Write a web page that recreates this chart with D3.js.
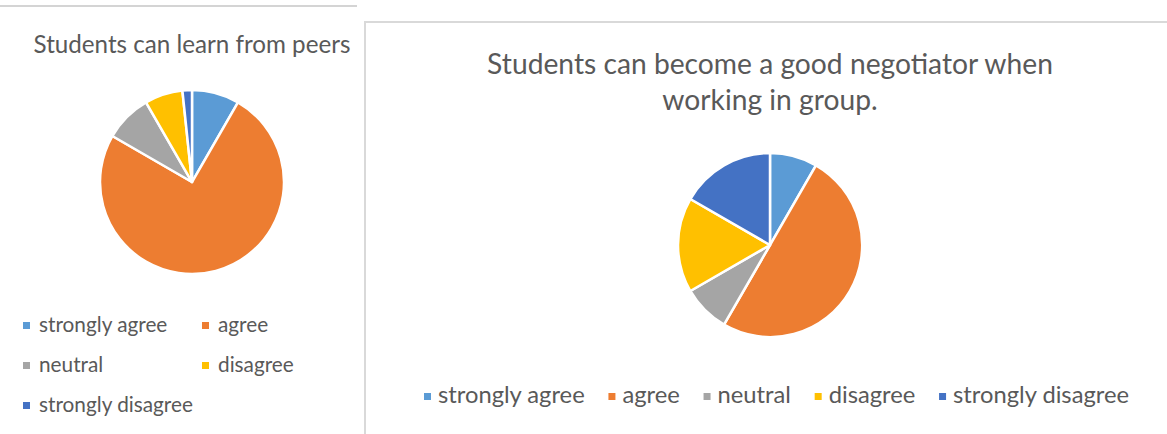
<!DOCTYPE html>
<html>
<head>
<meta charset="utf-8">
<script src="https://cdn.jsdelivr.net/npm/d3@7"></script>
<style>
  html, body { margin: 0; padding: 0; background: #ffffff; }
  svg { display: block; }
  text { font-family: Lato, "Open Sans", sans-serif; fill: #595959; }
</style>
</head>
<body>
<svg id="chart" width="1167" height="434"></svg>
<script>
// Response categories shared by both survey questions
const categories = ["strongly agree", "agree", "neutral", "disagree", "strongly disagree"];
const sliceColors = ["#5B9BD5", "#ED7D31", "#A5A5A5", "#FFC000", "#4472C4"];

// Number of respondents per answer
const peersCounts = [5, 45, 5, 4, 1];
const negotiatorCounts = [5, 30, 5, 10, 10];

const peersTitle = ["Students can learn from peers"];
const negotiatorTitle = ["Students can become a good negotiator when", "working in group."];

const svg = d3.select("#chart");
const color = d3.scaleOrdinal().domain(categories).range(sliceColors);

// Scale a text element's font size so that it spans the given width
function fitWidth(textSel, width) {
  textSel.style("font-size", "100px");
  const w = textSel.node().getComputedTextLength();
  const size = 100 * width / w;
  textSel.style("font-size", size + "px");
  return size;
}

function measure(str, size) {
  const t = svg.append("text").style("font-size", size + "px").text(str);
  const w = t.node().getComputedTextLength();
  t.remove();
  return w;
}

function drawPie(g, counts, cx, cy, r) {
  const pie = d3.pie().sort(null).value(d => d.value);
  const arc = d3.arc().innerRadius(0).outerRadius(r);
  const data = categories.map((c, i) => ({ key: c, value: counts[i] }));
  g.append("g")
    .attr("transform", `translate(${cx},${cy})`)
    .selectAll("path")
    .data(pie(data))
    .join("path")
    .attr("d", arc)
    .attr("fill", d => color(d.data.key))
    .attr("stroke", "#ffffff")
    .attr("stroke-width", 2.5)
    .attr("stroke-linejoin", "round");
}

// ---------- Left panel: learning from peers ----------
const left = svg.append("g");
left.append("line")
  .attr("x1", 0).attr("x2", 357).attr("y1", 6).attr("y2", 6)
  .attr("stroke", "#d4d4d4").attr("stroke-width", 2);

const lt = left.append("text")
  .attr("x", 192).attr("y", 53)
  .attr("text-anchor", "middle")
  .text(peersTitle[0]);
fitWidth(lt, 317);

drawPie(left, peersCounts, 192, 182, 92);

// Legend: two columns, three rows
const leftLegendSize = (() => {
  const t = svg.append("text").text("strongly disagree");
  const s = fitWidth(t, 154);
  t.remove();
  return s;
})();
const leftCols = [23, 202];
const leftRows = [332, 372, 412];
categories.forEach((c, i) => {
  const col = i % 2, row = Math.floor(i / 2);
  const x = leftCols[col], y = leftRows[row];
  left.append("rect")
    .attr("x", x).attr("y", y - 10).attr("width", 7).attr("height", 7)
    .attr("fill", color(c));
  left.append("text")
    .attr("x", x + 16).attr("y", y)
    .style("font-size", leftLegendSize + "px")
    .text(c);
});

// ---------- Right panel: becoming a good negotiator ----------
const right = svg.append("g");
right.append("path")
  .attr("d", "M365,434 V22 H1167")
  .attr("fill", "none")
  .attr("stroke", "#d9d9d9").attr("stroke-width", 2);

const rt1 = right.append("text")
  .attr("x", 770).attr("y", 74)
  .attr("text-anchor", "middle")
  .text(negotiatorTitle[0]);
const rtSize = fitWidth(rt1, 566);
right.append("text")
  .attr("x", 770).attr("y", 110)
  .attr("text-anchor", "middle")
  .style("font-size", rtSize + "px")
  .text(negotiatorTitle[1]);

drawPie(right, negotiatorCounts, 770, 245, 92);

// Legend: single row spanning a fixed width under the pie
const rightLegendSize = (() => {
  const t = svg.append("text").text("strongly disagree");
  const s = fitWidth(t, 176);
  t.remove();
  return s;
})();
const swatch = 7, swatchGap = 7;
const legendLeft = 424, legendRight = 1129;
const widths = categories.map(c => measure(c, rightLegendSize));
const itemGap = (legendRight - legendLeft - d3.sum(widths) - categories.length * (swatch + swatchGap)) / (categories.length - 1);
let lx = legendLeft;
const ly = 403;
categories.forEach((c, i) => {
  right.append("rect")
    .attr("x", lx).attr("y", ly - 10).attr("width", swatch).attr("height", swatch)
    .attr("fill", color(c));
  right.append("text")
    .attr("x", lx + swatch + swatchGap).attr("y", ly)
    .style("font-size", rightLegendSize + "px")
    .text(c);
  lx += swatch + swatchGap + widths[i] + itemGap;
});
</script>
</body>
</html>
